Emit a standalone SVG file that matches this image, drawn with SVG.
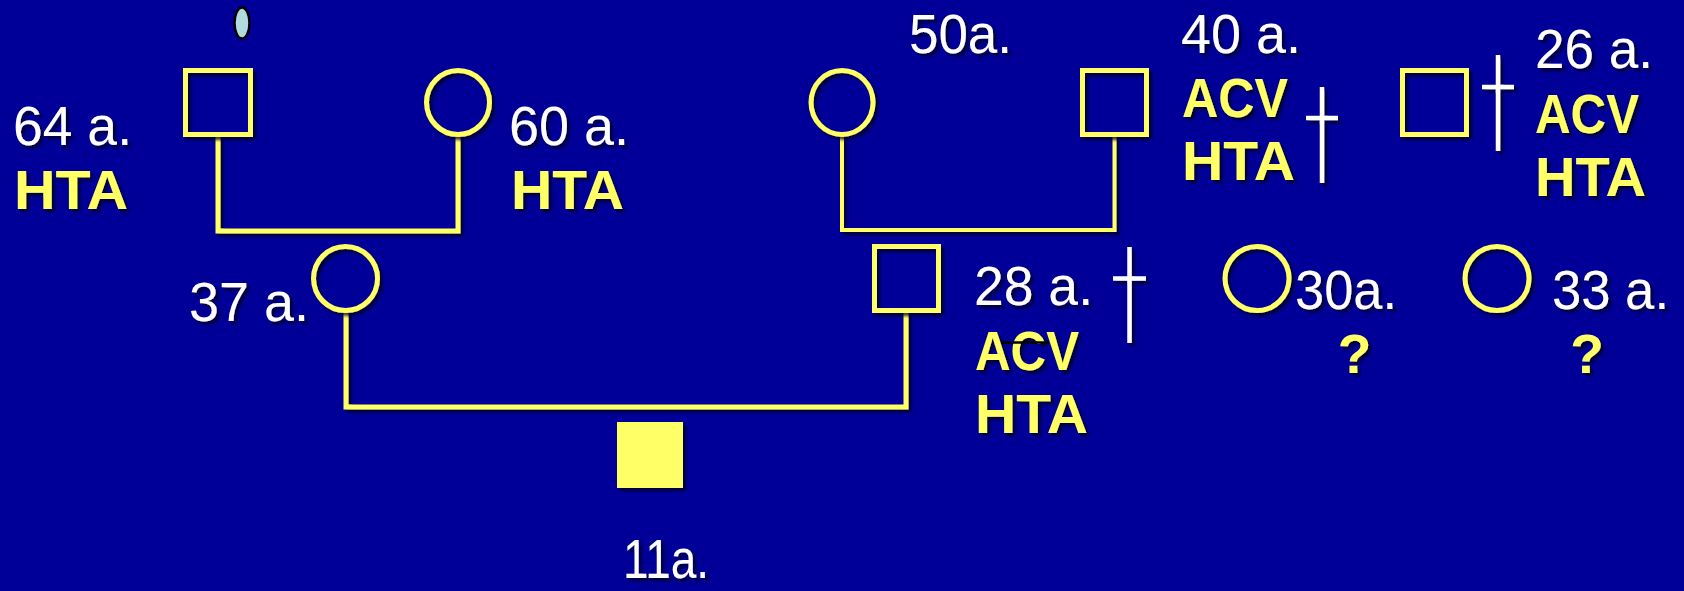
<svg xmlns="http://www.w3.org/2000/svg" width="1684" height="591" viewBox="0 0 1684 591">
<defs>
<filter id="sh" x="-20%" y="-20%" width="140%" height="140%">
<feDropShadow dx="3" dy="3" stdDeviation="1.5" flood-color="#000022" flood-opacity="0.8"/>
</filter>
</defs>
<style>
.bg{fill:#000099}
.sym{fill:none;stroke:#FFFF66;stroke-width:5;filter:url(#sh)}
.con{fill:none;stroke:#FFFF66;stroke-width:5;stroke-linejoin:miter;filter:url(#sh)}
.age{font-family:"Liberation Sans",Arial,sans-serif;font-size:56px;fill:#FFFFFF;filter:url(#sh)}
.dx{font-family:"Liberation Sans",Arial,sans-serif;font-size:55px;font-weight:bold;fill:#FFFF66;filter:url(#sh)}
.cross{stroke:#FFFFFF;stroke-width:4.5;fill:none}
</style>
<rect class="bg" x="0" y="0" width="1684" height="591"/>

<g id="connectors">
<path class="con" d="M218 137 V231 H458 V137"/>
<path class="con" d="M842 137 V230 H1114.5 V137" style="stroke-width:4"/>
<path class="con" d="M346 313 V407 H906 V313"/>
</g>

<g id="marker-ellipse">
<ellipse cx="242" cy="23" rx="7.5" ry="15.5" fill="#B0DCE0" stroke="#000000" stroke-width="2.5"/>
</g>

<g id="grandfather-paternal">
<rect class="sym" x="185.5" y="70.5" width="65" height="64"/>
<text class="age" x="13" y="145" textLength="119" lengthAdjust="spacingAndGlyphs">64 a.</text>
<text class="dx" x="14" y="209" textLength="114" lengthAdjust="spacingAndGlyphs">HTA</text>
</g>

<g id="grandmother-paternal">
<ellipse class="sym" cx="458" cy="102.5" rx="31.5" ry="32"/>
<text class="age" x="509" y="145" textLength="120" lengthAdjust="spacingAndGlyphs">60 a.</text>
<text class="dx" x="511" y="209" textLength="113" lengthAdjust="spacingAndGlyphs">HTA</text>
</g>

<g id="grandmother-maternal">
<ellipse class="sym" cx="842" cy="102.5" rx="31" ry="32"/>
<text class="age" x="909" y="53" textLength="103" lengthAdjust="spacingAndGlyphs">50a.</text>
</g>

<g id="grandfather-maternal">
<rect class="sym" x="1082.5" y="70.5" width="64" height="64"/>
<text class="age" x="1181" y="53" textLength="120" lengthAdjust="spacingAndGlyphs">40 a.</text>
<text class="dx" x="1182" y="117" textLength="106" lengthAdjust="spacingAndGlyphs">ACV</text>
<text class="dx" x="1182" y="180" textLength="113" lengthAdjust="spacingAndGlyphs">HTA</text>
<g filter="url(#sh)"><path class="cross" d="M1322 87 V183 M1306 118 H1338"/></g>
</g>

<g id="uncle-26">
<rect class="sym" x="1402.5" y="70.5" width="64" height="64"/>
<g filter="url(#sh)"><path class="cross" d="M1498 55 V151 M1482 87 H1514"/></g>
<text class="age" x="1535" y="68" textLength="118" lengthAdjust="spacingAndGlyphs">26 a.</text>
<text class="dx" x="1535" y="133" textLength="104" lengthAdjust="spacingAndGlyphs">ACV</text>
<text class="dx" x="1535" y="196" textLength="111" lengthAdjust="spacingAndGlyphs">HTA</text>
</g>

<g id="mother">
<ellipse class="sym" cx="345.5" cy="278.5" rx="32" ry="32"/>
<text class="age" x="189" y="321" textLength="120" lengthAdjust="spacingAndGlyphs">37 a.</text>
</g>

<g id="father">
<rect class="sym" x="874.5" y="246.5" width="64" height="64"/>
<text class="age" x="974" y="305" textLength="119" lengthAdjust="spacingAndGlyphs">28 a.</text>
<g filter="url(#sh)"><path class="cross" d="M1129.5 247 V343 M1113 278.5 H1146"/></g>
<text class="dx" x="975" y="370" textLength="104" lengthAdjust="spacingAndGlyphs">ACV</text>
<line x1="1001" y1="342.5" x2="1049" y2="342.5" stroke="#000000" stroke-width="2.5"/>
<text class="dx" x="975" y="433" textLength="113" lengthAdjust="spacingAndGlyphs">HTA</text>
</g>

<g id="aunt-30">
<ellipse class="sym" cx="1257" cy="278.5" rx="32" ry="32"/>
<text class="age" x="1295" y="309" textLength="102" lengthAdjust="spacingAndGlyphs">30a.</text>
<text class="dx" x="1354.5" y="373" text-anchor="middle">?</text>
</g>

<g id="aunt-33">
<ellipse class="sym" cx="1497" cy="278.5" rx="32" ry="32"/>
<text class="age" x="1552" y="309" textLength="117" lengthAdjust="spacingAndGlyphs">33 a.</text>
<text class="dx" x="1587" y="373" text-anchor="middle">?</text>
</g>

<g id="proband">
<rect x="617" y="422" width="66" height="66" fill="#FFFF66" filter="url(#sh)"/>
<text class="age" x="623" y="578" textLength="86" lengthAdjust="spacingAndGlyphs">11a.</text>
</g>
</svg>
